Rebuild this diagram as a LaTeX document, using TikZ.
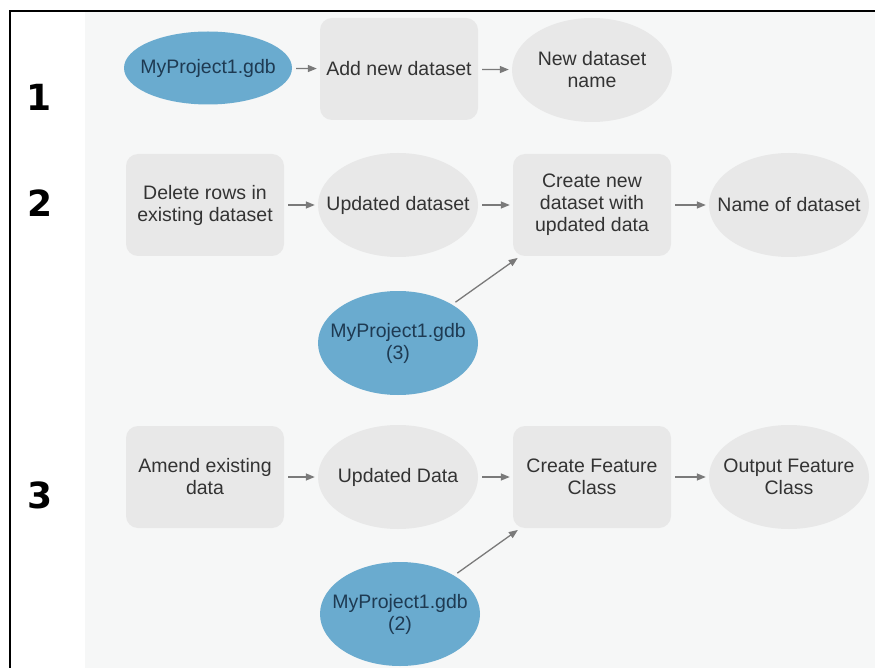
\documentclass[tikz,border=0pt]{standalone}
\usepackage{fontspec}
\setmainfont{Liberation Sans}
\newfontfamily\stepfont{DejaVu Sans}
\usepackage{xcolor}
\usetikzlibrary{positioning}
\usetikzlibrary{shapes.geometric}
\usetikzlibrary{arrows.meta}

\definecolor{panelgray}{HTML}{F6F7F7}
\definecolor{shapegray}{HTML}{E8E8E8}
\definecolor{gdbblue}{HTML}{6AABCF}
\definecolor{textgray}{HTML}{333333}
\definecolor{gdbtext}{HTML}{1E3A52}
\definecolor{arrowgray}{HTML}{7A7A7A}

\begin{document}
\begin{tikzpicture}[
  x=1pt, y=-1pt,
  font=\fontsize{19.5}{22}\selectfont,
  tool/.style={rectangle, rounded corners=12pt, fill=shapegray, text=textgray, align=center, minimum width=158pt, minimum height=102pt},
  data/.style={ellipse, fill=shapegray, text=textgray, align=center, minimum width=160pt, minimum height=104pt, inner xsep=-25pt, inner ysep=0pt},
  gdb/.style={data, fill=gdbblue, text=gdbtext},
  flow/.style={-{Triangle[length=9pt,width=7pt]}, draw=arrowgray, line width=1.3pt, shorten <=4pt, shorten >=3pt},
  num/.style={font=\stepfont\fontsize{36}{40}\selectfont\bfseries}
]
\useasboundingbox (0,0) rectangle (875,668);

% Frame and model panel
\fill[panelgray] (85,12) rectangle (875,668);
\draw[line width=2.5pt] (10,668) -- (10,11) -- (875,11);

% Step numbers
\node[num] (n1) at (39,97) {1};
\node[num] (n2) at (40,203) {2};
\node[num] (n3) at (40,495) {3};

% Model 1
\node[gdb, minimum width=168pt, minimum height=73pt] (gdb1) at (208,68) {MyProject1.gdb};
\node[tool] (add) at (399,69) {Add new dataset};
\node[data] (newname) at (592,70) {New dataset\\name};

\draw[flow] (gdb1) -- (add);
\draw[flow] (add) -- (newname);

% Model 2
\node[tool] (delete) at (205,205) {Delete rows in\\existing dataset};
\node[data] (upd) at (398,205) {Updated dataset};
\node[tool] (create) at (592,205) {Create new\\dataset with\\updated data};
\node[data] (dsname) at (789,205) {Name of dataset};
\node[gdb] (gdb3) at (398,343) {MyProject1.gdb\\(3)};

\draw[flow] (delete) -- (upd);
\draw[flow] (upd) -- (create);
\draw[flow] (create) -- (dsname);
\draw[flow] (gdb3) -- (create);

% Model 3
\node[tool] (amend) at (205,477) {Amend existing\\data};
\node[data] (upddata) at (398,477) {Updated Data};
\node[tool] (feature) at (592,477) {Create Feature\\Class};
\node[data] (outfc) at (789,477) {Output Feature\\Class};
\node[gdb] (gdb2) at (400,614) {MyProject1.gdb\\(2)};

\draw[flow] (amend) -- (upddata);
\draw[flow] (upddata) -- (feature);
\draw[flow] (feature) -- (outfc);
\draw[flow] (gdb2) -- (feature);

\end{tikzpicture}
\end{document}
